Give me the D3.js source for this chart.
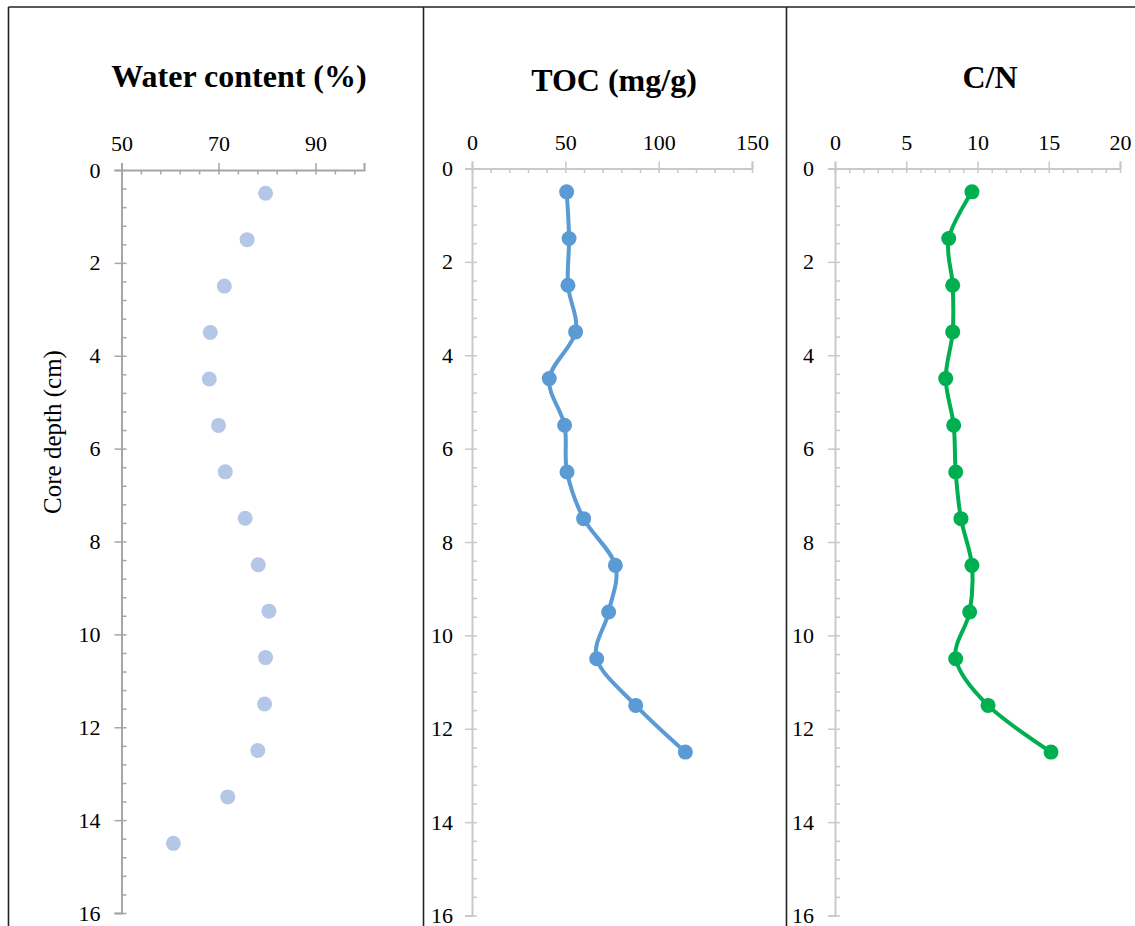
<!DOCTYPE html>
<html>
<head>
<meta charset="utf-8">
<script src="https://cdn.jsdelivr.net/npm/d3@7"></script>
<style>
  html, body { margin: 0; padding: 0; background: #fff; }
  svg { display: block; }
  text { font-family: "Liberation Serif", "Times New Roman", serif; fill: #000; }
</style>
</head>
<body>
<svg id="chart" width="1135" height="926"></svg>
<script>
// ---- Data ----
const depthWater = [0.5, 1.5, 2.5, 3.5, 4.5, 5.5, 6.5, 7.5, 8.5, 9.5, 10.5, 11.5, 12.5, 13.5, 14.5];
const waterContent = [79.7, 75.9, 71.2, 68.3, 68.1, 70.0, 71.4, 75.5, 78.2, 80.4, 79.7, 79.5, 78.1, 71.9, 60.7];

const depthTOC = [0.5, 1.5, 2.5, 3.5, 4.5, 5.5, 6.5, 7.5, 8.5, 9.5, 10.5, 11.5, 12.5];
const tocValues = [50.7, 52.0, 51.4, 55.5, 41.4, 49.6, 50.9, 59.8, 76.8, 73.2, 66.8, 87.7, 114.3];

const depthCN = [0.5, 1.5, 2.5, 3.5, 4.5, 5.5, 6.5, 7.5, 8.5, 9.5, 10.5, 11.5, 12.5];
const cnValues = [9.61, 7.98, 8.26, 8.26, 7.77, 8.33, 8.47, 8.84, 9.61, 9.45, 8.47, 10.74, 15.16];

const depthTicks = [0, 2, 4, 6, 8, 10, 12, 14, 16];
const waterTicks = [50, 70, 90];
const tocTicks = [0, 50, 100, 150];
const cnTicks = [0, 5, 10, 15, 20];

const titles = ["Water content (%)", "TOC (mg/g)", "C/N"];
const yTitle = "Core depth (cm)";

// ---- Setup ----
const svg = d3.select("#chart");

// frames (three adjacent chart boxes)
const frame = svg.append("g").attr("stroke", "#222").attr("stroke-width", 1.6).attr("fill", "none");
frame.append("line").attr("x1", 8.5).attr("x2", 1135).attr("y1", 7).attr("y2", 7);
frame.append("line").attr("x1", 8.5).attr("x2", 8.5).attr("y1", 7).attr("y2", 926);
frame.append("line").attr("x1", 423.5).attr("x2", 423.5).attr("y1", 7).attr("y2", 926);
frame.append("line").attr("x1", 786.5).attr("x2", 786.5).attr("y1", 7).attr("y2", 926);

function range(a, b, step) {
  const out = [];
  for (let v = a; v <= b + 1e-9; v += step) out.push(+v.toFixed(6));
  return out;
}

function panel(cfg) {
  const x = d3.scaleLinear().domain(cfg.xDomain).range(cfg.xRange);
  const y = d3.scaleLinear().domain([0, 16]).range(cfg.yRange);
  const g = svg.append("g");
  const axisColor = cfg.axisColor;

  // X axis (top): minor inside ticks
  const xMinor = g.append("g").attr("transform", `translate(0,${y(0)})`)
    .call(d3.axisBottom(x).tickValues(range(cfg.xDomain[0], cfg.xDomain[1], cfg.xMinor)).tickSize(4.5).tickFormat(""));
  // X axis major outside ticks + labels
  const xMajor = g.append("g").attr("transform", `translate(0,${y(0)})`)
    .call(d3.axisTop(x).tickValues(cfg.xMajorTicks).tickSize(7).tickPadding(12).tickFormat(d3.format("d")));

  // Y axis: minor inside ticks
  const yMinor = g.append("g").attr("transform", `translate(${x(cfg.xDomain[0])},0)`)
    .call(d3.axisRight(y).tickValues(range(0, 16, 0.4)).tickSize(5).tickFormat(""));
  const yMajor = g.append("g").attr("transform", `translate(${x(cfg.xDomain[0])},0)`)
    .call(d3.axisLeft(y).tickValues(depthTicks).tickSize(7).tickPadding(cfg.yPad).tickFormat(d3.format("d")));

  [xMinor, xMajor, yMinor, yMajor].forEach(a => {
    a.select(".domain").attr("stroke", axisColor).attr("stroke-width", 2);
    a.selectAll(".tick line").attr("stroke", axisColor).attr("stroke-width", 1.5);
    a.selectAll("text").attr("fill", "#000").style("font-size", "22px")
      .style("font-family", '"Liberation Serif", "Times New Roman", serif');
  });
  xMinor.select(".domain").remove();
  yMinor.select(".domain").remove();

  // Title
  g.append("text")
    .attr("x", cfg.titleX).attr("y", cfg.titleY)
    .attr("text-anchor", "middle")
    .style("font-size", "32px").style("font-weight", "bold")
    .text(cfg.title);

  // Line
  const pts = cfg.values.map((v, i) => [x(v), y(cfg.depth[i])]);
  if (cfg.line) {
    g.append("path")
      .attr("d", d3.line().curve(d3.curveCardinal.tension(0))(pts))
      .attr("fill", "none").attr("stroke", cfg.color).attr("stroke-width", 4)
      .attr("stroke-linejoin", "round").attr("stroke-linecap", "round");
  }
  g.selectAll("circle.pt").data(pts).enter().append("circle")
    .attr("class", "pt")
    .attr("cx", d => d[0]).attr("cy", d => d[1])
    .attr("r", 7.5).attr("fill", cfg.color);
  return { x, y };
}

panel({
  xDomain: [50, 100], xRange: [121.5, 364], yRange: [170, 913],
  xMinor: 4, xMajorTicks: waterTicks, axisColor: "#a6a6a6", yPad: 14,
  title: titles[0], titleX: 239, titleY: 87,
  depth: depthWater, values: waterContent, color: "#b4c7e7", line: false
});
panel({
  xDomain: [0, 150], xRange: [472, 752], yRange: [168.5, 915.5],
  xMinor: 10, xMajorTicks: tocTicks, axisColor: "#c9c9c9", yPad: 12,
  title: titles[1], titleX: 614, titleY: 90.5,
  depth: depthTOC, values: tocValues, color: "#5b9bd5", line: true
});
panel({
  xDomain: [0, 20], xRange: [835, 1120], yRange: [168.5, 915.5],
  xMinor: 1, xMajorTicks: cnTicks, axisColor: "#c9c9c9", yPad: 14,
  title: titles[2], titleX: 990, titleY: 88.3,
  depth: depthCN, values: cnValues, color: "#00b050", line: true
});

// Y axis title
svg.append("text")
  .attr("transform", "translate(61,432) rotate(-90)")
  .attr("text-anchor", "middle")
  .style("font-size", "25px")
  .text(yTitle);
</script>
</body>
</html>
